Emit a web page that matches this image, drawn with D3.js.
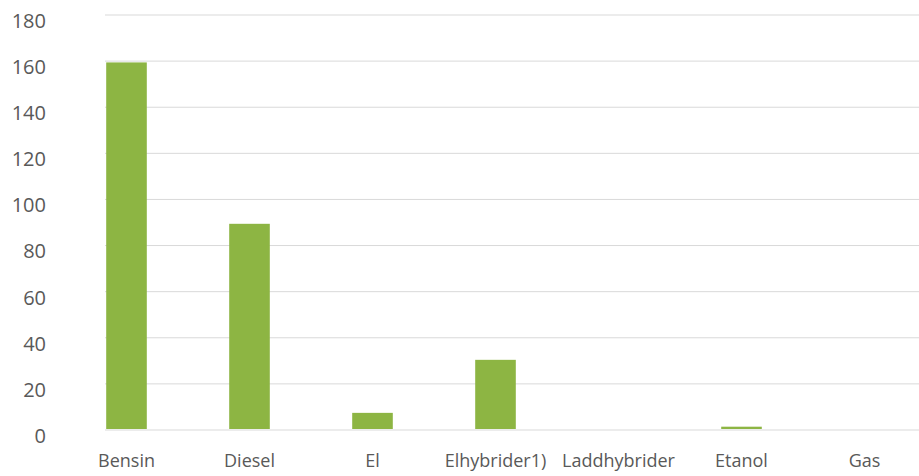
<!DOCTYPE html>
<html>
<head>
<meta charset="utf-8">
<script src="https://cdn.jsdelivr.net/npm/d3@7"></script>
<style>
  html, body { margin: 0; padding: 0; background: #fff; }
  svg { display: block; }
  text { font-family: "Open Sans", sans-serif; fill: #595959; }
</style>
</head>
<body>
<svg id="chart" width="919" height="476"></svg>
<script>
const categories = ["Bensin", "Diesel", "El", "Elhybrider1)", "Laddhybrider", "Etanol", "Gas"];
const values = [159, 89, 7, 30, 0, 1, 0];
const yTicks = [0, 20, 40, 60, 80, 100, 120, 140, 160, 180];

const svg = d3.select("#chart");
const W = 919, H = 476;

const x = d3.scaleBand().domain(categories).range([65, 926]).paddingInner(0.67).paddingOuter(0.335);
const y = d3.scaleLinear().domain([0, 180]).range([430, 15]);

// gridlines
svg.append("g").selectAll("line").data(yTicks).join("line")
  .attr("x1", 105).attr("x2", W)
  .attr("y1", d => y(d)).attr("y2", d => y(d))
  .attr("stroke", "#d9d9d9").attr("stroke-width", 1);

// y axis labels
const yAxis = d3.axisLeft(y).tickValues(yTicks).tickSize(0).tickPadding(0);
const gy = svg.append("g").attr("transform", "translate(46,6)").call(yAxis);
gy.select(".domain").remove();
gy.selectAll("text").style("font-size", "20px").attr("fill", "#595959")
  .style("font-family", "'Open Sans', sans-serif");

// bars
svg.append("g").selectAll("rect").data(categories).join("rect")
  .attr("x", d => x(d))
  .attr("width", x.bandwidth())
  .attr("y", (d, i) => y(values[i]) - 1)
  .attr("height", (d, i) => values[i] > 0 ? y(0) - y(values[i]) : 0)
  .attr("fill", "#8db543");

// x axis labels
const xAxis = d3.axisBottom(x).tickSize(0).tickPadding(0);
const gx = svg.append("g").attr("transform", "translate(0,454)").call(xAxis);
gx.select(".domain").remove();
gx.selectAll("text").style("font-size", "18px").attr("fill", "#595959")
  .style("font-family", "'Open Sans', sans-serif");
</script>
</body>
</html>
